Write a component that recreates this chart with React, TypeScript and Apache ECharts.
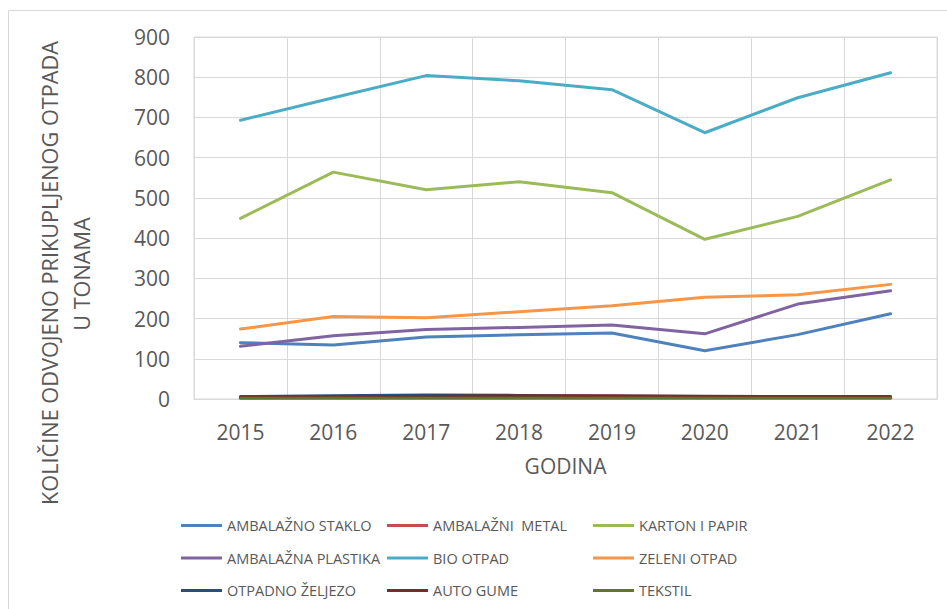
import React, { useEffect, useRef } from "react";
import * as echarts from "echarts";

const years = ["2015", "2016", "2017", "2018", "2019", "2020", "2021", "2022"];

const staklo = [140, 134, 154, 160, 164, 120, 160, 212];
const metal = [3, 4, 5, 6, 6, 6, 5, 5];
const karton = [449, 564, 520, 540, 513, 397, 454, 545];
const plastika = [131, 157, 173, 178, 184, 162, 236, 269];
const bio = [693, 749, 804, 791, 769, 662, 749, 811];
const zeleni = [174, 205, 202, 217, 232, 253, 259, 285];
const zeljezo = [6, 8, 10, 9, 7, 6, 5, 5];
const gume = [4, 5, 6, 8, 8, 7, 6, 6];
const tekstil = [2, 2, 2, 2, 2, 2, 2, 2];

const seriesNames = [
  "AMBALAŽNO STAKLO",
  "AMBALAŽNI  METAL",
  "KARTON I PAPIR",
  "AMBALAŽNA PLASTIKA",
  "BIO OTPAD",
  "ZELENI OTPAD",
  "OTPADNO ŽELJEZO",
  "AUTO GUME",
  "TEKSTIL",
];
const seriesData = [staklo, metal, karton, plastika, bio, zeleni, zeljezo, gume, tekstil];
const seriesColors = [
  "#4F81BD",
  "#C0504D",
  "#9BBB59",
  "#8064A2",
  "#4BACC6",
  "#F79646",
  "#2C4D75",
  "#772C2A",
  "#5F7530",
];

const yTitle1 = "KOLIČINE ODVOJENO PRIKUPLJENOG OTPADA";
const yTitle2 = "U TONAMA";
const xTitle = "GODINA";

const FONT = "'Open Sans', 'Noto Sans', sans-serif";
const TXT = "#595959";

export default function App() {
  const ref = useRef<HTMLDivElement>(null);
  useEffect(() => {
    document.body.style.margin = "0";
    document.body.style.overflow = "hidden";
    const chart = echarts.init(ref.current!, undefined, { renderer: "svg" });
    const legendCols = [
      [0, 3, 6],
      [1, 4, 7],
      [2, 5, 8],
    ];
    const legendLefts = [181, 387, 593];
    chart.setOption({
      animation: false,
      backgroundColor: "#ffffff",
      textStyle: { fontFamily: FONT },
      grid: {
        left: 194,
        right: 10,
        top: 37,
        bottom: 210,
        show: true,
        borderColor: "#d9d9d9",
        borderWidth: 1,
      },
      xAxis: {
        type: "category",
        data: years,
        boundaryGap: true,
        axisTick: { show: false },
        axisLine: { lineStyle: { color: "#d9d9d9", width: 1 } },
        splitLine: { show: true, interval: 0, lineStyle: { color: "#d9d9d9", width: 1 } },
        axisLabel: { color: TXT, fontSize: 21, fontFamily: FONT, margin: 22, interval: 0 },
        name: xTitle,
        nameLocation: "middle",
        nameGap: 56,
        nameTextStyle: { color: TXT, fontSize: 21, fontFamily: FONT },
      },
      yAxis: {
        type: "value",
        min: 0,
        max: 900,
        interval: 100,
        axisLine: { show: false },
        axisTick: { show: false },
        splitLine: { lineStyle: { color: "#d9d9d9", width: 1 } },
        axisLabel: { color: TXT, fontSize: 21, fontFamily: FONT, margin: 24 },
      },
      legend: legendCols.map((col, i) => ({
        orient: "vertical",
        left: legendLefts[i],
        top: 518,
        height: 150,
        padding: 0,
        icon: "rect",
        itemWidth: 41,
        itemHeight: 3,
        itemGap: 17.5,
        selectedMode: false,
        data: col.map((k) => seriesNames[k]),
        textStyle: { color: TXT, fontSize: 14.5, fontFamily: FONT, lineHeight: 14 },
      })),
      series: seriesNames.map((name, i) => ({
        name,
        type: "line",
        data: seriesData[i],
        symbol: "none",
        showSymbol: false,
        color: seriesColors[i],
        lineStyle: { color: seriesColors[i], width: 3, cap: "round", join: "round" },
      })),
      graphic: [
        {
          type: "rect",
          shape: { x: 8.5, y: 10.5, width: 1200, height: 800 },
          style: { fill: "none", stroke: "#d9d9d9", lineWidth: 1 },
          silent: true,
        },
        {
          type: "text",
          x: 49,
          y: 273,
          rotation: Math.PI / 2,
          style: {
            text: yTitle1,
            fill: TXT,
            font: `21.7px ${FONT}`,
            textAlign: "center",
            textVerticalAlign: "middle",
          },
        },
        {
          type: "text",
          x: 81,
          y: 274,
          rotation: Math.PI / 2,
          style: {
            text: yTitle2,
            fill: TXT,
            font: `21.7px ${FONT}`,
            textAlign: "center",
            textVerticalAlign: "middle",
          },
        },
      ],
    });
    return () => chart.dispose();
  }, []);
  return <div ref={ref} style={{ width: 947, height: 609 }} />;
}
